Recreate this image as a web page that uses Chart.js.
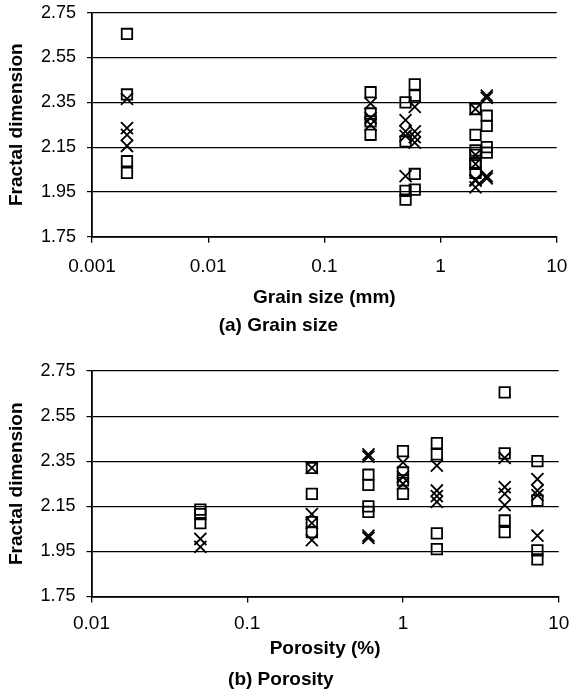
<!DOCTYPE html>
<html>
<head>
<meta charset="utf-8">
<script src="https://cdn.jsdelivr.net/npm/chart.js@4.4.1/dist/chart.umd.min.js"></script>
<style>
  html, body { margin: 0; padding: 0; background: #fff; }
  #wrap { position: relative; width: 569px; height: 697px; }
  .panel { position: absolute; left: 0; width: 569px; }
  #pa { top: 0; height: 350px; }
  #pb { top: 350px; height: 347px; }
</style>
</head>
<body>
<div id="wrap">
  <div class="panel" id="pa"><canvas id="ca"></canvas></div>
  <div class="panel" id="pb"><canvas id="cb"></canvas></div>
</div>
<script>
// Rock samples: grain size (mm) and porosity (%) of each sample group
const grainSize = [0.002, 0.25, 0.5, 0.6, 2, 2, 2.5];
const porosity  = [4.5, 1.0, 7.3, 1.65, 0.26, 0.05, 0.6];

// Fractal dimensions per sample group, two estimates (square and cross markers)
const dimSquare = [
  [2.655, 2.385, 2.087, 2.035],
  [2.395, 2.30, 2.265, 2.205],
  [2.35, 2.175, 1.955, 1.915],
  [2.43, 2.38, 2.03, 1.96],
  [2.32, 2.205, 2.08, 2.035],
  [2.135, 2.115, 2.075],
  [2.29, 2.245, 2.15, 2.125]
];
const dimCross = [
  [2.365, 2.235, 2.205, 2.155],
  [2.345, 2.28, 2.25],
  [2.27, 2.22, 2.20, 2.02],
  [2.33, 2.22, 2.195, 2.17],
  [2.32, 2.115, 2.075, 2.0],
  [2.005, 1.97],
  [2.38, 2.37, 2.02, 2.01]
];

const yTicks = [1.75, 1.95, 2.15, 2.35, 2.55, 2.75];
const grainTicks = [0.001, 0.01, 0.1, 1, 10];
const grainTickLabels = ['0.001', '0.01', '0.1', '1', '10'];
const porosityTicks = [0.01, 0.1, 1, 10];
const porosityTickLabels = ['0.01', '0.1', '1', '10'];

const FONT = "'Liberation Sans', Arial, Helvetica, sans-serif";

function toPoints(xs, groups) {
  const pts = [];
  groups.forEach((vals, i) => vals.forEach(v => pts.push({ x: xs[i], y: v })));
  return pts;
}

function makePanel(canvasId, xs, xTicks, xLabels, xTitle, caption, g) {
  return new Chart(document.getElementById(canvasId), {
    type: 'scatter',
    data: {
      datasets: [
        {
          label: 'square',
          data: toPoints(xs, dimSquare),
          pointStyle: 'rect',
          pointRadius: 7.4,
          pointBorderWidth: 1.8,
          pointBorderColor: '#000',
          pointBackgroundColor: 'rgba(0,0,0,0)'
        },
        {
          label: 'cross',
          data: toPoints(xs, dimCross),
          pointStyle: 'crossRot',
          pointRadius: 8.5,
          pointBorderWidth: 1.8,
          pointBorderColor: '#000',
          pointBackgroundColor: 'rgba(0,0,0,0)'
        }
      ]
    },
    options: {
      responsive: true,
      maintainAspectRatio: false,
      animation: false,
      events: [],
      layout: { padding: { top: g.top, right: g.right, left: 0, bottom: 0 } },
      plugins: {
        legend: { display: false },
        tooltip: { enabled: false },
        title: {
          display: true,
          position: 'bottom',
          text: caption,
          color: '#000',
          font: { family: FONT, size: 19, weight: 'bold' },
          padding: { top: 0, bottom: g.capPad }
        }
      },
      scales: {
        x: {
          type: 'logarithmic',
          min: xTicks[0],
          max: xTicks[xTicks.length - 1],
          afterBuildTicks: s => { s.ticks = xTicks.map(v => ({ value: v })); },
          afterFit: s => { s.height = g.xHeight; s.paddingLeft = 0; s.paddingRight = 0; },
          ticks: {
            autoSkip: false, maxRotation: 0, minRotation: 0,
            padding: g.xTickPad,
            color: '#000',
            font: { family: FONT, size: 19 },
            callback: (v, i) => xLabels[i]
          },
          grid: { drawOnChartArea: false, drawTicks: true, tickLength: 6, color: '#000', lineWidth: 1.3 },
          border: { display: true, color: '#000', width: 1.8 },
          title: {
            display: true, text: xTitle, color: '#000',
            font: { family: FONT, size: 19, weight: 'bold' },
            padding: { top: 0, bottom: g.xTitlePad }
          }
        },
        y: {
          type: 'linear',
          min: yTicks[0],
          max: yTicks[yTicks.length - 1],
          afterBuildTicks: s => { s.ticks = yTicks.map(v => ({ value: v })); },
          afterFit: s => { s.width = g.left; s.paddingTop = 0; s.paddingBottom = 0; },
          ticks: {
            padding: 11,
            color: '#000',
            font: { family: FONT, size: 18 },
            callback: v => Number(v).toFixed(2)
          },
          grid: { drawOnChartArea: true, drawTicks: true, tickLength: 5, color: '#000', lineWidth: 1.2 },
          border: { display: true, color: '#000', width: 1.8 },
          title: {
            display: true, text: 'Fractal dimension', color: '#000',
            font: { family: FONT, size: 19, weight: 'bold' },
            padding: { top: 5.6, bottom: 0 }
          }
        }
      }
    }
  });
}

makePanel('ca', grainSize, grainTicks, grainTickLabels, 'Grain size (mm)', '(a) Grain size',
  { top: 12.7, right: 12.3, left: 92, xHeight: 77.9, xTickPad: 12.4, xTitlePad: 5.2, capPad: 12.6 });

makePanel('cb', porosity, porosityTicks, porosityTickLabels, 'Porosity (%)', '(b) Porosity',
  { top: 21, right: 7.3, left: 91.5, xHeight: 71.8, xTickPad: 9.4, xTitlePad: 7.9, capPad: 5.9 });
</script>
</body>
</html>
